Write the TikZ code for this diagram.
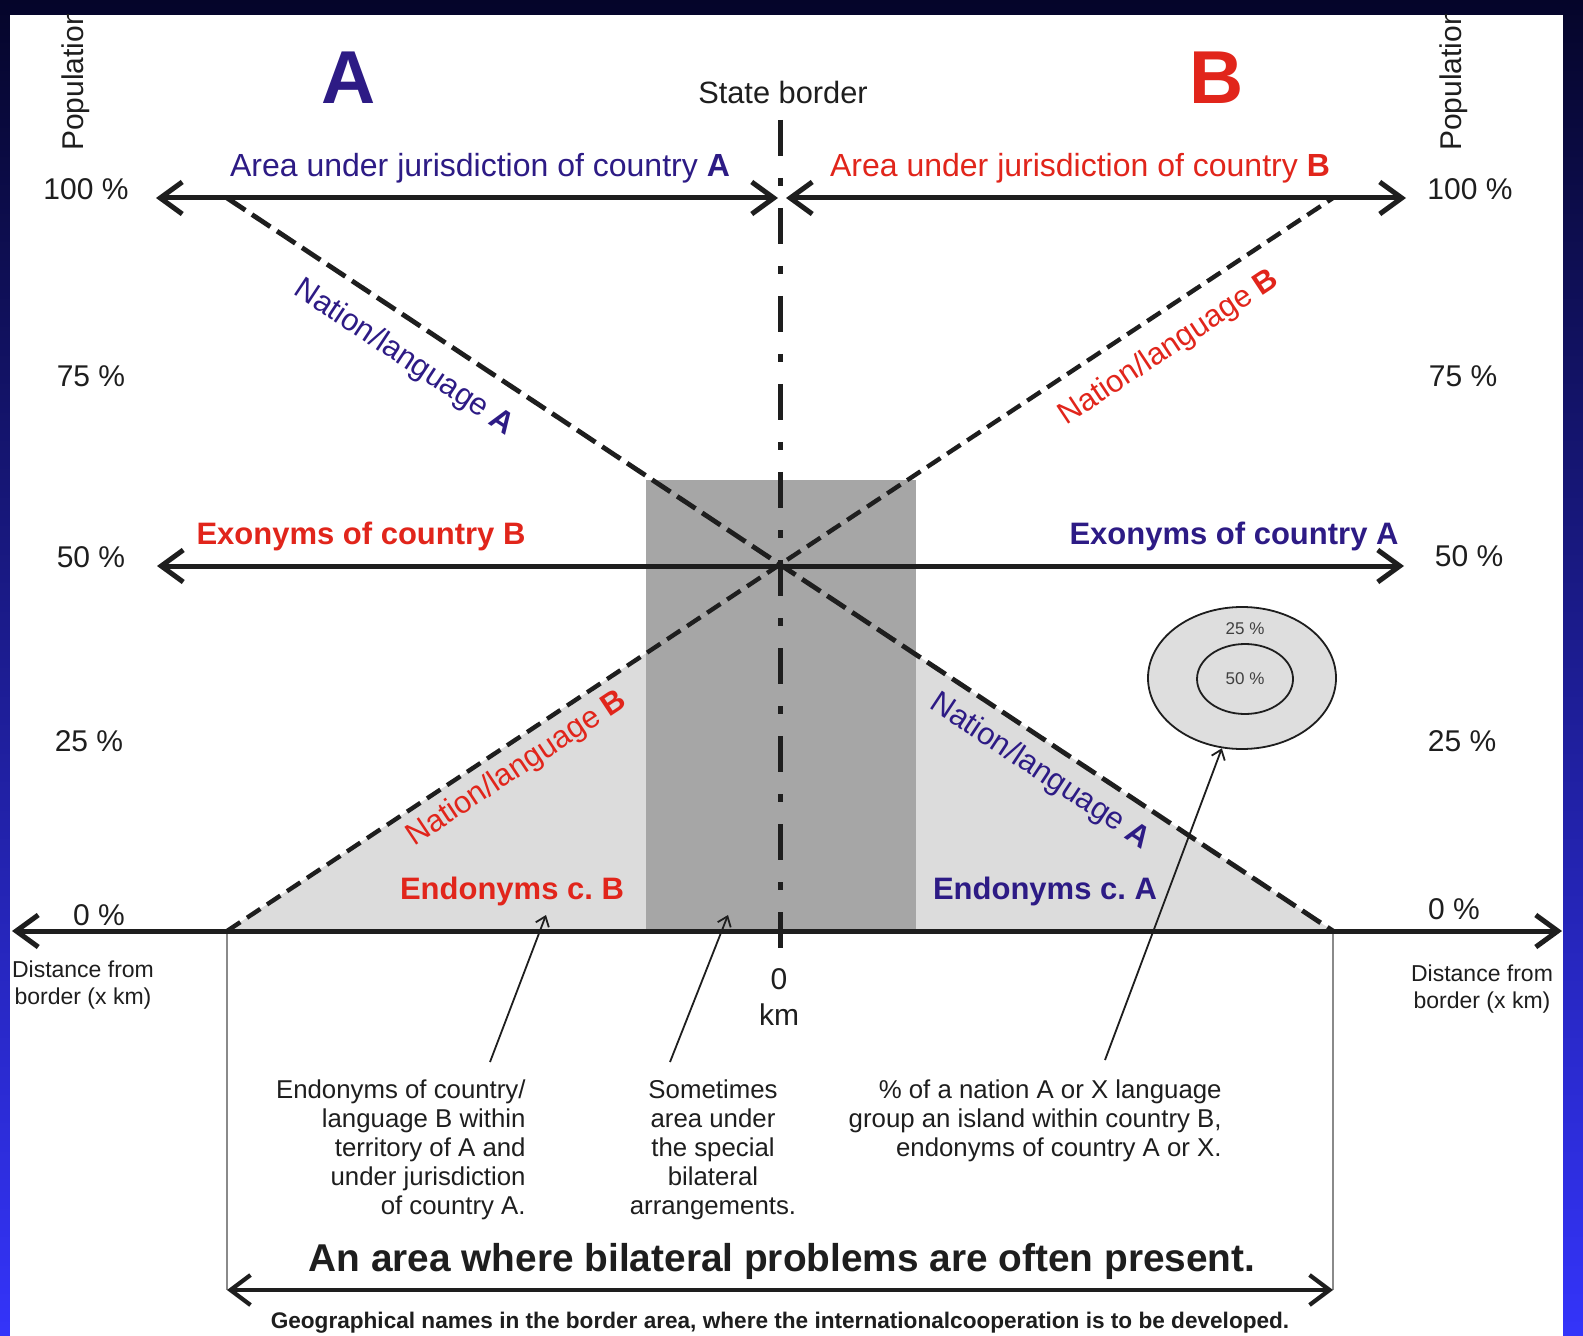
\documentclass[tikz,border=0pt]{standalone}
\usepackage{fontspec}
\setmainfont{Liberation Sans}
\setsansfont{Liberation Sans}
\usetikzlibrary{arrows.meta, positioning, shapes.geometric}
\definecolor{cnavy}{HTML}{2D1B85}
\definecolor{cred}{HTML}{E1251B}
\definecolor{cdark}{HTML}{A6A6A6}
\definecolor{clight}{HTML}{DCDCDC}
\definecolor{cisle}{HTML}{DEDEDE}
\definecolor{cframe}{HTML}{8A8A8A}
\definecolor{cink}{HTML}{1E1E1E}
\definecolor{cbgtop}{HTML}{05052A}
\definecolor{cbgmid}{HTML}{1E1EB4}
\definecolor{cbgbot}{HTML}{3434FA}
\newcommand{\fsz}[2]{\fontsize{#1pt}{#2pt}\selectfont}
\frenchspacing
\tikzset{
  every picture/.style={font=\sffamily},
  bigletter/.style={font=\fsz{37.5}{45}\bfseries, inner sep=0pt},
  tick/.style={font=\fsz{15}{18}, text=cink, inner sep=0pt},
  label/.style={font=\fsz{16}{19}, inner sep=0pt},
  boldlabel/.style={font=\fsz{15.5}{19}\bfseries, inner sep=0pt},
  slanted/.style={font=\fsz{15.5}{19}, inner sep=0pt},
  note/.style={font=\fsz{12.9}{14.6}, text=cink, inner sep=0pt},
  heavy/.style={{Straight Barb[length=11pt,width=16pt]}-{Straight Barb[length=11pt,width=16pt]}, line width=2.5pt, draw=cink},
  lower/.style={{Straight Barb[length=10pt,width=15pt]}-{Straight Barb[length=10pt,width=15pt]}, line width=2.1pt, draw=cink},
  pointer/.style={-{Straight Barb[length=4.5pt,width=7pt]}, line width=0.9pt, draw=cink},
  stateline/.style={line width=2.5pt, draw=cink, dash pattern=on 18pt off 11pt on 4pt off 11pt},
  langA/.style={line width=2.4pt, draw=cink, dash pattern=on 11pt off 4pt},
  langB/.style={line width=2.2pt, draw=cink, dash pattern=on 8pt off 4pt},
  thinframe/.style={line width=0.8pt, draw=cframe},
  island/.style={ellipse, draw=cink, fill=cisle, line width=0.9pt, inner sep=0pt},
}
\begin{document}
\begin{tikzpicture}[x=0.5pt, y=-0.5pt]
  \useasboundingbox (0,0) rectangle (1583,1336);
  \shade[top color=cbgtop, middle color=cbgmid, bottom color=cbgbot] (0,0) rectangle (1583,1336);
  \fill[white] (10,15) rectangle (1563,1336);
  \begin{scope}
  \clip (10,15) rectangle (1563,1336);
  % shaded zones
  \fill[clight] (227,931) -- (780,564.5) -- (1333,931) -- cycle;
  \fill[cdark] (646,480) rectangle (916,931);
  \draw[thinframe] (227,931) -- (227,1290);
  \draw[thinframe] (1333,931) -- (1333,1290);
  % island of nation A
  \node[island, minimum width=94pt, minimum height=71pt] (island) at (1242,678) {};
  \node[island, minimum width=48pt, minimum height=35pt] (core) at (1245,679) {};
  \node[font=\fsz{8.5}{9}, text=cink!85, inner sep=0pt] (outerpct) at (1245,629) {25 \%};
  \node[font=\fsz{8.5}{9}, text=cink!85, inner sep=0pt] (innerpct) at (1245,679) {50 \%};
  % population lines
  \draw[langA] (227,198) -- (1333,931);
  \draw[langB] (227,931) -- (1333,198);
  \draw[stateline] (780,120) -- (780,949);
  \draw[heavy] (156,198) -- (778,198);
  \draw[heavy] (786,198) -- (1406,198);
  \draw[heavy] (157,566) -- (1404,566);
  \draw[heavy] (12,931) -- (1562,931);
  \draw[lower] (227,1290) -- (1333,1290);
  % titles
  \node[bigletter, text=cnavy] (letA) at (349,78) {A};
  \node[bigletter, text=cred] (letB) at (1217,78) {B};
  \node[tick, font=\fsz{15.4}{18}] (border) at (783,92) {State border};
  \node[label, text=cnavy] (areaA) at (480,168) {Area under jurisdiction of country \textbf{A}};
  \node[label, text=cred] (areaB) at (1080,168) {Area under jurisdiction of country \textbf{B}};
  \node[tick, rotate=90] (popL) at (76,80) {Population};
  \node[tick, rotate=90] (popR) at (1454,80) {Population};
  \foreach \p/\xl/\yl/\xr/\yr in {100/86/189/1470/189, 75/91/376/1463/376, 50/91/557/1469/556, 25/89/741/1462/741, 0/99/915/1454/909} {
    \node[tick] (tickL\p) at (\xl,\yl) {\p\ \%};
    \node[tick] (tickR\p) at (\xr,\yr) {\p\ \%};
  }
  \node[tick, font=\fsz{11.5}{13.5}, align=center] (distL) at (83,985) {Distance from\\border (x km)};
  \node[tick, font=\fsz{11.5}{13.5}, align=center] (distR) at (1482,989) {Distance from\\border (x km)};
  \node[tick] (zero) at (779,979) {0};
  \node[tick] (km) at (779,1015) {km};
  % exonyms and nations
  \node[boldlabel, text=cred] (exoB) at (361,536) {Exonyms of country B};
  \node[boldlabel, text=cnavy] (exoA) at (1234,536) {Exonyms of country A};
  \node[slanted, text=cnavy, rotate=-33.5] (natA1) at (404,358) {Nation/language \textbf{A}};
  \node[slanted, text=cred, rotate=33.5] (natB1) at (1169,348) {Nation/language \textbf{B}};
  \node[slanted, text=cred, rotate=33.5] (natB2) at (517,769) {Nation/language \textbf{B}};
  \node[slanted, text=cnavy, rotate=-33.5] (natA2) at (1040,772) {Nation/language \textbf{A}};
  \node[boldlabel, text=cred] (endoB) at (512,891) {Endonyms c. B};
  \node[boldlabel, text=cnavy] (endoA) at (1045,891) {Endonyms c. A};
  % explanations
  \node[note, align=right, anchor=north east] (noteB) at (526,1079)
    {Endonyms of country/\\language B within\\territory of A and\\under jurisdiction\\of country A.};
  \node[note, align=center, anchor=north] (noteMid) at (713,1079)
    {Sometimes\\area under\\the special\\bilateral\\arrangements.};
  \node[note, align=right, anchor=north east] (noteIsle) at (1222,1079)
    {\% of a nation A or X language\\group an island within country B,\\endonyms of country A or X.};
  \coordinate (tipEndo) at (546,915);
  \coordinate (tipMid) at (728,915);
  \draw[pointer] (noteB.north east) ++(-36,-17) -- (tipEndo);
  \draw[pointer] (noteMid.north) ++(-43,-17) -- (tipMid);
  \draw[pointer] (noteIsle.north east) ++(-117,-19) -- (island.254);
  \node[font=\fsz{19.4}{23}\bfseries, text=cink, inner sep=0pt] (problems) at (782,1261) {An area where bilateral problems are often present.};
  \node[font=\fsz{11.3}{13}\bfseries, text=cink, inner sep=0pt] (coop) at (780,1323) {Geographical names in the border area, where the internationalcooperation is to be developed.};
  \end{scope}
\end{tikzpicture}
\end{document}
